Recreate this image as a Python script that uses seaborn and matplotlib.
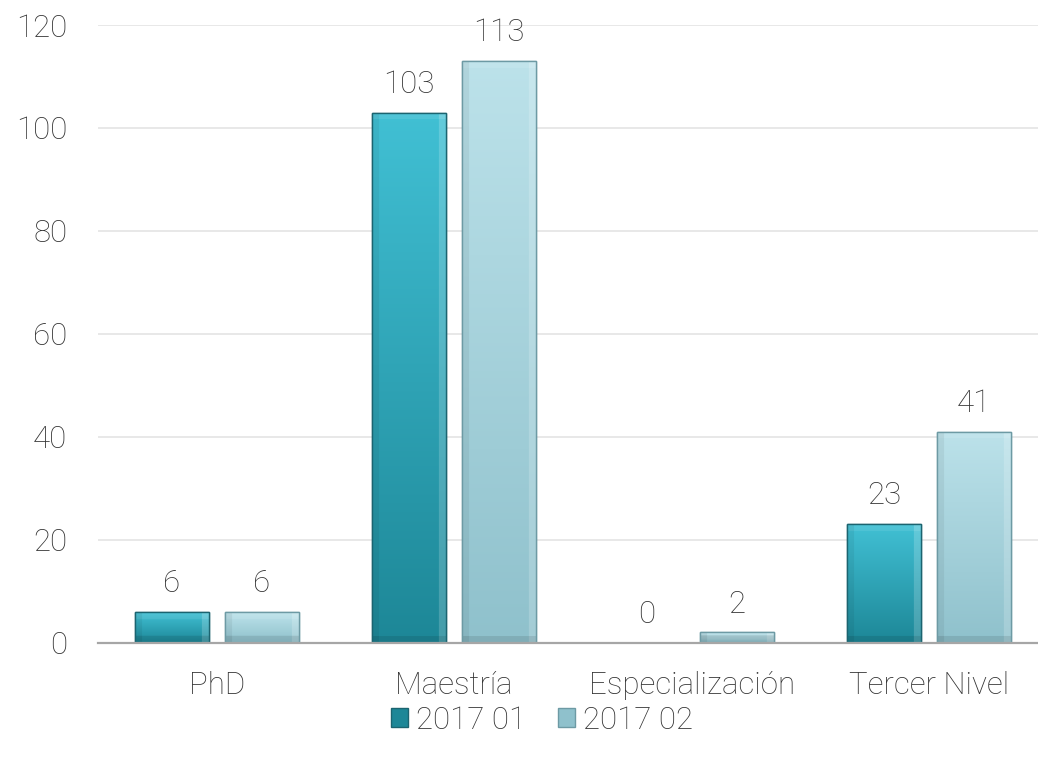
import numpy as np
import pandas as pd
import seaborn as sb
import matplotlib.pyplot as plt
import matplotlib.patches as mpatches
from matplotlib.colors import to_rgb

categories = ["PhD", "Maestría", "Especialización", "Tercer Nivel"]
series_names = ["2017 01", "2017 02"]
values_2017_01 = [6, 103, 0, 23]
values_2017_02 = [6, 113, 2, 41]

palette = {"2017 01": ("#41c0d4", "#1d8797"), "2017 02": ("#bce2ea", "#8fc1cc")}
edges = {"2017 01": "#1b6470", "2017 02": "#6d9aa4"}
text_color = "#333333"
fs = 22.5

df = pd.DataFrame({
    "nivel": categories * 2,
    "periodo": [series_names[0]] * 4 + [series_names[1]] * 4,
    "valor": values_2017_01 + values_2017_02,
})

sb.set_theme(style="white")
plt.rcParams["font.family"] = ["Roboto", "DejaVu Sans"]

fig = plt.figure(figsize=(10.38, 7.58), dpi=100)
ax = fig.add_axes([0.0944, 0.152, 0.915, 0.815])

sb.barplot(data=df, x="nivel", y="valor", hue="periodo", order=categories,
           hue_order=series_names, width=0.76, gap=0.18, ax=ax,
           palette={k: v[1] for k, v in palette.items()}, legend=False)

ax.set_ylim(0, 120)
ax.set_xlim(-0.5, 3.5)
ax.set_yticks(range(0, 121, 20))
ax.grid(axis="y", color="#e4e4e4", linewidth=1.2)
ax.set_axisbelow(True)
for s in ["top", "right", "left"]:
    ax.spines[s].set_visible(False)
ax.spines["bottom"].set_color("#a6a6a6")
ax.spines["bottom"].set_linewidth(1.6)
ax.tick_params(axis="both", length=0, labelsize=fs, colors=text_color)
ax.tick_params(axis="y", pad=22)
ax.tick_params(axis="x", pad=20)
for lbl in ax.get_xticklabels() + ax.get_yticklabels():
    lbl.set_fontweight("light")
ax.set_xlabel("")
ax.set_ylabel("")

fig.canvas.draw()


def shade(patch, top, bottom, edge):
    x, w, h = patch.get_x(), patch.get_width(), patch.get_height()
    patch.set_edgecolor(edge)
    patch.set_linewidth(1.0)
    if h <= 0:
        return
    p0 = ax.transData.transform((x, 0))
    p1 = ax.transData.transform((x + w, h))
    wpx, hpx = p1[0] - p0[0], p1[1] - p0[1]
    nr, nc = max(int(hpx), 2), max(int(wpx), 2)
    t = np.linspace(0, 1, nr)[:, None, None]
    img = (1 - t) * np.array(to_rgb(top)) + t * np.array(to_rgb(bottom))
    img = np.repeat(img, nc, axis=1)
    bev = 7
    cols = np.arange(nc)
    rows = np.arange(nr)
    light = np.zeros((nr, nc))
    light[:, cols >= nc - bev] += 0.18
    light[rows < bev, :] += 0.08
    dark = np.zeros((nr, nc))
    dark[:, cols < bev] += 0.06
    dark[rows >= nr - bev, :] += 0.1
    img = img + (1 - img) * light[..., None]
    img = img * (1 - dark[..., None])
    im = ax.imshow(np.clip(img, 0, 1), extent=[x, x + w, 0, h], aspect="auto",
                   zorder=patch.get_zorder() + 0.1, interpolation="bilinear")
    im.set_clip_path(patch)
    frame = mpatches.Rectangle((x, 0), w, h, fill=False, edgecolor=edge,
                               linewidth=1.0, zorder=patch.get_zorder() + 0.2)
    ax.add_patch(frame)


for container, name, vals in zip(ax.containers, series_names,
                                 [values_2017_01, values_2017_02]):
    for patch, v in zip(container.patches, vals):
        shade(patch, palette[name][0], palette[name][1], edges[name])
        ax.annotate(str(v), (patch.get_x() + patch.get_width() / 2, v),
                    xytext=(0, 10), textcoords="offset points", ha="center",
                    va="bottom", fontsize=fs, color=text_color, fontweight="light")

ax.set_xlim(-0.5, 3.5)
ax.set_ylim(0, 120)

handles = [mpatches.Patch(facecolor=palette[n][1], edgecolor=edges[n], label=n)
           for n in series_names]
leg = fig.legend(handles=handles, loc="center", bbox_to_anchor=(0.522, 0.05), ncol=2,
                 frameon=False, fontsize=fs, handlelength=0.55, handleheight=0.55,
                 handletextpad=0.25, columnspacing=1.0, labelcolor=text_color)
for t in leg.get_texts():
    t.set_fontweight("light")

fig.savefig("out.png", dpi=100)
